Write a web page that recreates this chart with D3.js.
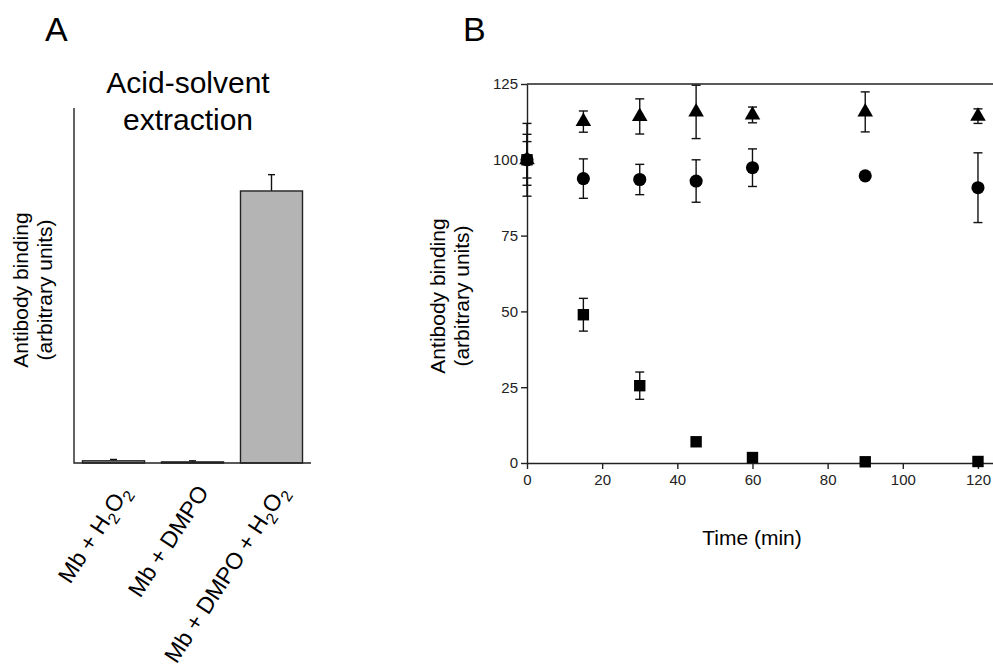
<!DOCTYPE html>
<html>
<head>
<meta charset="utf-8">
<script src="https://cdn.jsdelivr.net/npm/d3@7"></script>
<style>
    body { margin: 0; background: #fff; }
    svg { font-family: "Liberation Sans", Arial, sans-serif; }
    .axisLine { stroke: #222; stroke-width: 1.4; fill: none; }
    .tick line { stroke: #222; stroke-width: 1.4; }
    .tick text { font-size: 15px; fill: #222; font-family: "Liberation Sans", Arial, sans-serif; }
    .errbar { stroke: #111; stroke-width: 1.4; fill: none; }
</style>
</head>
<body>
<script>
(function (){

//panel A data - acid-solvent extraction
var barCats = ["Mb + H2O2", "Mb + DMPO", "Mb + DMPO + H2O2"];
var barVals = [0.8, 0.4, 100];
var barErrs = [0.5, 0.4, 6];

//panel B data - time course
var times = [0, 15, 30, 45, 60, 90, 120];
var triVals = [100, 112.6, 114.3, 115.8, 114.8, 115.8, 114.4];
var triErrs = [12, 3.5, 5.8, 8.8, 2.6, 6.6, 2.4];
var circVals = [100, 93.8, 93.5, 93.0, 97.4, 94.7, 90.8];
var circErrs = [6, 6.5, 5.0, 7.0, 6.2, 0, 11.5];
var sqVals = [100, 48.9, 25.5, 7.0, 1.8, 0.4, 0.5];
var sqErrs = [8.4, 5.4, 4.5, 0, 0, 0, 0];
var xTicks = [0, 20, 40, 60, 80, 100, 120];
var yTicks = [0, 25, 50, 75, 100, 125];

var width = 993, height = 671;

var svg = d3.select("body")
    .append("svg")
    .attr("width", width)
    .attr("height", height);

setPanelA();
setPanelB();

function setPanelA(){
    var x0 = 74, x1 = 311, yTop = 108, yBot = 463;

    var xScale = d3.scaleBand()
        .domain(barCats)
        .range([x0, x1])
        .paddingInner(0.215)
        .paddingOuter(0.1075);

    var yScale = d3.scaleLinear()
        .domain([0, 130.5])
        .range([yBot, yTop]);

    svg.append("text")
        .attr("x", 45)
        .attr("y", 41)
        .style("font-size", "34px")
        .text("A");

    //title, two lines
    var title = svg.append("text")
        .attr("text-anchor", "middle")
        .style("font-size", "30px");
    title.append("tspan").attr("x", 188).attr("y", 93).text("Acid-solvent");
    title.append("tspan").attr("x", 188).attr("y", 130).text("extraction");

    //error bars behind bars
    var g = svg.append("g");
    barCats.forEach(function(c, i){
        var cx = xScale(c) + xScale.bandwidth() / 2;
        var top = yScale(barVals[i] + barErrs[i]);
        g.append("line").attr("class", "errbar")
            .attr("x1", cx).attr("x2", cx)
            .attr("y1", yScale(barVals[i])).attr("y2", top);
        g.append("line").attr("class", "errbar")
            .attr("x1", cx - 3.5).attr("x2", cx + 3.5)
            .attr("y1", top).attr("y2", top);
    });

    g.selectAll(".bar")
        .data(barCats)
        .enter()
        .append("rect")
        .attr("class", "bar")
        .attr("x", function(d){ return xScale(d); })
        .attr("width", xScale.bandwidth())
        .attr("y", function(d, i){ return yScale(barVals[i]); })
        .attr("height", function(d, i){ return yBot - yScale(barVals[i]); })
        .style("fill", "#b4b4b4")
        .style("stroke", "#222")
        .style("stroke-width", 1.4);

    //axes (no ticks)
    svg.append("path").attr("class", "axisLine")
        .attr("d", "M" + x0 + "," + yTop + "V" + yBot + "H" + x1);

    //rotated category labels with subscripts
    barCats.forEach(function(c, i){
        var cx = xScale(c) + xScale.bandwidth() / 2;
        var t = svg.append("text")
            .attr("text-anchor", "end")
            .attr("transform", "translate(" + (cx + 17) + ",492) rotate(-57)")
            .style("font-size", "23px");
        var parts = c.split("H2O2");
        if (parts.length > 1){
            t.append("tspan").text(parts[0] + "H");
            t.append("tspan").attr("dy", 6).style("font-size", "16px").text("2");
            t.append("tspan").attr("dy", -6).text("O");
            t.append("tspan").attr("dy", 6).style("font-size", "16px").text("2");
        } else {
            t.text(c);
        };
    });

    //y label
    var yl = svg.append("text")
        .attr("text-anchor", "middle")
        .attr("transform", "translate(0,290) rotate(-90)")
        .style("font-size", "21px");
    yl.append("tspan").attr("x", 0).attr("y", 28).text("Antibody binding");
    yl.append("tspan").attr("x", 0).attr("y", 52).text("(arbitrary units)");
}; //end of setPanelA

function setPanelB(){
    var x0 = 527, x1 = 993, yTop = 84, yBot = 463;

    var xScale = d3.scaleLinear()
        .domain([0, 124])
        .range([x0, x1]);

    var yScale = d3.scaleLinear()
        .domain([0, 125])
        .range([yBot, yTop]);

    svg.append("text")
        .attr("x", 463)
        .attr("y", 41)
        .style("font-size", "34px")
        .text("B");

    //x axis
    var xAxis = svg.append("g")
        .attr("transform", "translate(0," + yBot + ")")
        .call(d3.axisBottom(xScale).tickValues(xTicks).tickSize(6).tickPadding(5).tickSizeOuter(0));
    xAxis.select(".domain").attr("class", "axisLine");

    //y axis
    var yAxis = svg.append("g")
        .attr("transform", "translate(" + x0 + ",0)")
        .call(d3.axisLeft(yScale).tickValues(yTicks).tickSize(6).tickPadding(3).tickSizeOuter(0));
    yAxis.select(".domain").attr("class", "axisLine");

    //top frame line
    svg.append("line").attr("class", "axisLine")
        .attr("x1", x0).attr("x2", x1)
        .attr("y1", yTop).attr("y2", yTop);

    svg.append("defs").append("clipPath").attr("id", "plotClip")
        .append("rect")
        .attr("x", x0 - 20).attr("y", yTop)
        .attr("width", x1 - x0 + 20).attr("height", yBot - yTop + 20);

    var plot = svg.append("g").attr("clip-path", "url(#plotClip)");

    var series = [
        {vals: triVals, errs: triErrs, sym: d3.symbolTriangle, size: 105},
        {vals: circVals, errs: circErrs, sym: d3.symbolCircle, size: 135},
        {vals: sqVals, errs: sqErrs, sym: d3.symbolSquare, size: 130}
    ];

    //error bars first
    series.forEach(function(s){
        times.forEach(function(t, i){
            if (s.errs[i] <= 0) return;
            var cx = xScale(t),
                hi = yScale(s.vals[i] + s.errs[i]),
                lo = yScale(s.vals[i] - s.errs[i]);
            plot.append("line").attr("class", "errbar")
                .attr("x1", cx).attr("x2", cx).attr("y1", hi).attr("y2", lo);
            [hi, lo].forEach(function(yy){
                plot.append("line").attr("class", "errbar")
                    .attr("x1", cx - 4.5).attr("x2", cx + 4.5)
                    .attr("y1", yy).attr("y2", yy);
            });
        });
    });

    //markers
    series.forEach(function(s){
        plot.selectAll(null)
            .data(times)
            .enter()
            .append("path")
            .attr("d", d3.symbol().type(s.sym).size(s.size))
            .attr("transform", function(d, i){
                return "translate(" + xScale(d) + "," + yScale(s.vals[i]) + ")";
            })
            .style("fill", "#000");
    });

    //axis labels
    svg.append("text")
        .attr("x", 752)
        .attr("y", 545)
        .attr("text-anchor", "middle")
        .style("font-size", "21px")
        .text("Time (min)");

    var yl = svg.append("text")
        .attr("text-anchor", "middle")
        .attr("transform", "translate(0,296) rotate(-90)")
        .style("font-size", "21px");
    yl.append("tspan").attr("x", 0).attr("y", 445).text("Antibody binding");
    yl.append("tspan").attr("x", 0).attr("y", 469).text("(arbitrary units)");
}; //end of setPanelB

})();
</script>
</body>
</html>
